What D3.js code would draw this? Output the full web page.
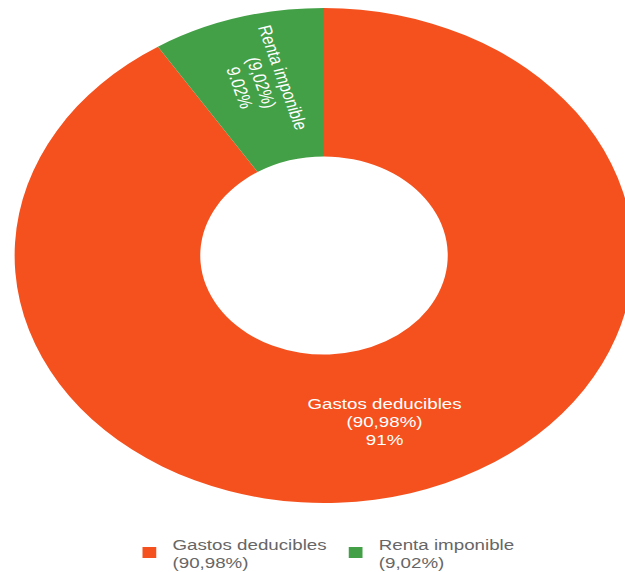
<!DOCTYPE html>
<html>
<head>
<meta charset="utf-8">
<script src="https://cdn.jsdelivr.net/npm/d3@7"></script>
<style>
  body { margin: 0; background: #fff; }
  svg { display: block; font-family: "Liberation Sans", Arial, sans-serif; }
</style>
</head>
<body>
<div id="chart"></div>
<script>
// data
var categories = ["Gastos deducibles", "Renta imponible"];
var shares = [90.98, 9.02];
var pctLabels = ["(90,98%)", "(9,02%)"];
var valueLabels = ["91%", "9.02%"];
var colors = ["#F4511E", "#43A047"];

var width = 625, height = 572;
var stretch = 1.25;            // the whole chart is drawn wider than tall
var cx = 259.2, cy = 255.5;
var outerR = 247.5, innerR = 99;

var svg = d3.select("#chart").append("svg")
    .attr("width", width)
    .attr("height", height);

var g = svg.append("g")
    .attr("transform", "scale(" + stretch + ",1)");

var data = categories.map(function (c, i) {
    return { label: c, value: shares[i], pct: pctLabels[i], val: valueLabels[i], color: colors[i] };
});

var pie = d3.pie().value(function (d) { return d.value; }).sort(null);
var arc = d3.arc().innerRadius(innerR).outerRadius(outerR);
var labelArc = d3.arc().innerRadius(110).outerRadius(250);

var donut = g.append("g").attr("transform", "translate(" + cx + "," + cy + ")");

donut.selectAll("path")
    .data(pie(data))
    .enter()
    .append("path")
    .attr("d", arc)
    .attr("fill", function (d) { return d.data.color; });

// slice labels
var labels = donut.selectAll(".lbl")
    .data(pie(data))
    .enter()
    .append("text")
    .attr("class", "lbl")
    .attr("fill", "#fff")
    .attr("font-size", 15)
    .attr("text-anchor", "middle")
    .attr("transform", function (d) {
        var small = d.endAngle - d.startAngle < 1;
        var c = small ? labelArc.centroid(d) : arc.centroid(d);
        var mid = (d.startAngle + d.endAngle) / 2;
        var rot = small ? mid * 180 / Math.PI + 90 : 0; // small slice: radial text
        return "translate(" + c[0] + "," + c[1] + ") rotate(" + rot + ")";
    });

labels.each(function (d) {
    var t = d3.select(this);
    var lines = [d.data.label, d.data.pct, d.data.val];
    lines.forEach(function (l, i) {
        t.append("tspan")
            .attr("x", 0)
            .attr("y", (i - 1) * 18 + 5)
            .text(l);
    });
});

// legend
var legendX = [114, 279];
var legend = g.selectAll(".legend")
    .data(data)
    .enter()
    .append("g")
    .attr("class", "legend")
    .attr("transform", function (d, i) { return "translate(" + legendX[i] + ",547)"; });

legend.append("rect")
    .attr("width", 11)
    .attr("height", 11)
    .attr("fill", function (d) { return d.color; });

legend.append("text")
    .attr("x", 24)
    .attr("y", 3)
    .attr("font-size", 15)
    .attr("fill", "#666")
    .text(function (d) { return d.label; });

legend.append("text")
    .attr("x", 24)
    .attr("y", 21)
    .attr("font-size", 15)
    .attr("fill", "#666")
    .text(function (d) { return d.pct; });
</script>
</body>
</html>
